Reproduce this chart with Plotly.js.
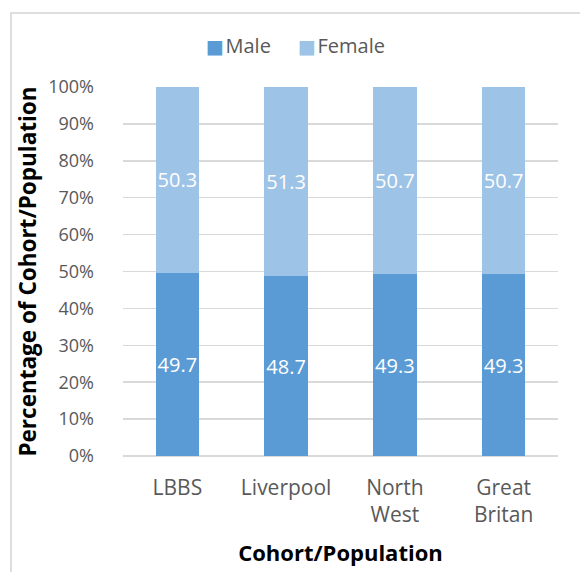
<!DOCTYPE html>
<html>
<head>
<meta charset="utf-8">
<script src="https://cdn.plot.ly/plotly-3.0.1.min.js"></script>
<style>
  html, body { margin: 0; padding: 0; background: #ffffff; }
  #wrap { position: relative; width: 580px; height: 572px; overflow: hidden; }
  #chart { position: absolute; left: 0; top: 0; width: 580px; height: 572px; }
  #frame { position: absolute; left: 10px; top: 12px; width: 620px; height: 620px;
           border: 2px solid #DEDEDE; pointer-events: none; }
</style>
</head>
<body>
<div id="wrap">
  <div id="chart"></div>
  <div id="frame"></div>
</div>
<script>
const categories = ["LBBS", "Liverpool", "North<br>West", "Great<br>Britan"];
const seriesNames = ["Male", "Female"];
const seriesColors = ["#5B9BD5", "#9DC3E6"];
const maleValues = [49.7, 48.7, 49.3, 49.3];
const femaleValues = [50.3, 51.3, 50.7, 50.7];
const yTickValues = [0, 10, 20, 30, 40, 50, 60, 70, 80, 90, 100];
const yTickLabels = ["0%", "10%", "20%", "30%", "40%", "50%", "60%", "70%", "80%", "90%", "100%"];

const FONT = "Open Sans, Lato, sans-serif";
const GRAY = "#595959";

const seriesValues = [maleValues, femaleValues];
const traces = seriesValues.map((vals, i) => ({
  type: "bar", name: seriesNames[i], x: categories, y: vals,
  marker: { color: seriesColors[i] },
  text: vals.map(v => v.toFixed(1)),
  textposition: "inside", insidetextanchor: "middle", textangle: 0,
  constraintext: "none",
  textfont: { color: "#ffffff", size: 20, family: FONT },
  hoverinfo: "none",
  showlegend: false
}));

// legend drawn as text items (square + name), positions in paper coords
const legendX = [0.186, 0.398];
const legendAnn = seriesNames.map((n, i) => ({
  xref: "paper", yref: "paper", x: legendX[i], y: 1.112,
  xanchor: "left", yanchor: "middle", showarrow: false,
  text: '<span style="color:' + seriesColors[i] + '; font-family: DejaVu Sans; font-size: 19px">■</span><span style="font-size: 6px"> </span>' + n,
  font: { size: 20, color: GRAY, family: FONT }
}));

const layout = {
  width: 580, height: 572,
  margin: { l: 123, r: 22, t: 87, b: 116, pad: 0 },
  paper_bgcolor: "rgba(0,0,0,0)",
  plot_bgcolor: "rgba(0,0,0,0)",
  barmode: "stack",
  bargap: 0.6,
  font: { family: FONT, color: GRAY, size: 18 },
  showlegend: false,
  annotations: legendAnn,
  xaxis: {
    type: "category",
    showgrid: false, zeroline: false, showline: false,
    ticks: "", ticklabelstandoff: 17,
    tickfont: { size: 21, color: GRAY, family: FONT },
    title: { text: "Cohort/Population", font: { size: 22, color: "#000000", family: FONT, weight: "bold" }, standoff: 18 }
  },
  yaxis: {
    range: [0, 100],
    tickvals: yTickValues, ticktext: yTickLabels,
    showgrid: true, gridcolor: "#D9D9D9", gridwidth: 1.5,
    zeroline: true, zerolinecolor: "#D9D9D9", zerolinewidth: 1.5,
    showline: false, ticks: "", ticklabelstandoff: 28,
    tickfont: { size: 18, color: GRAY, family: FONT },
    title: { text: "Percentage of Cohort/Population", font: { size: 22.5, color: "#000000", family: FONT, weight: "bold" }, standoff: 5 }
  }
};

Plotly.newPlot("chart", traces, layout, { displayModeBar: false, staticPlot: true });
</script>
</body>
</html>
